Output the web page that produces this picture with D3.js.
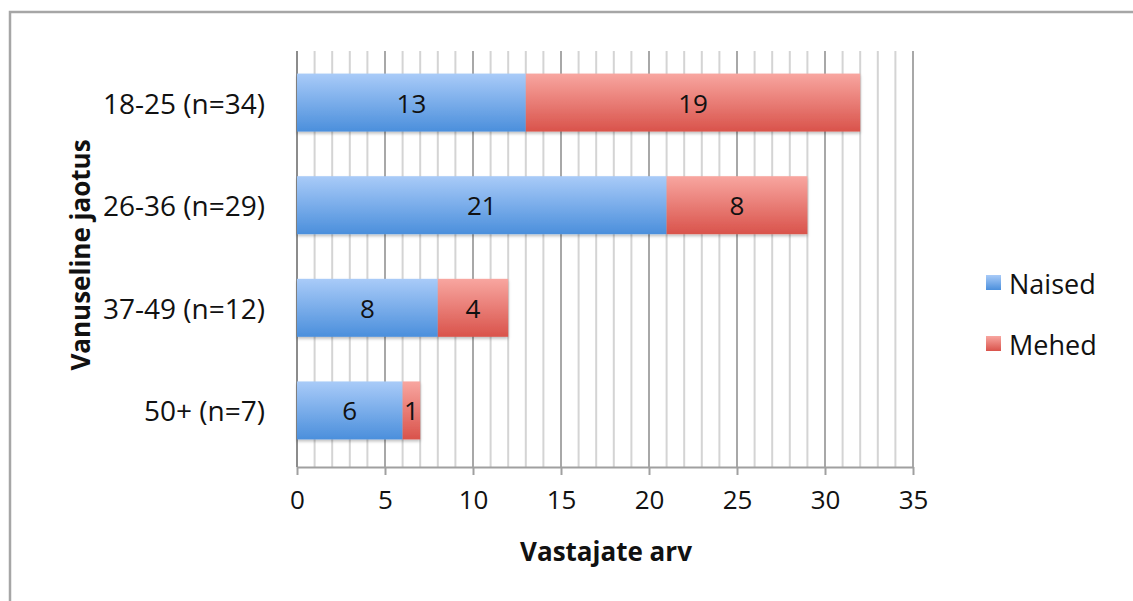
<!DOCTYPE html>
<html>
<head>
<meta charset="utf-8">
<script src="https://cdn.jsdelivr.net/npm/d3@7"></script>
<style>
  html, body { margin: 0; padding: 0; background: #fff; }
  svg { display: block; font-family: "Open Sans", "Noto Sans", sans-serif; }
</style>
</head>
<body>
<svg id="chart" width="1133" height="601"></svg>
<script>
// Age groups and respondent counts by gender
const categories = ["18-25 (n=34)", "26-36 (n=29)", "37-49 (n=12)", "50+ (n=7)"];
const naised = [13, 21, 8, 6];
const mehed = [19, 8, 4, 1];
const seriesNames = ["Naised", "Mehed"];
const xTicks = [0, 5, 10, 15, 20, 25, 30, 35];

const svg = d3.select("#chart");
const W = 1133, H = 601;
const m = { left: 297, right: 913, top: 51, bottom: 467 };
const FS = 26;

// outer chart frame
svg.append("rect")
  .attr("x", 10).attr("y", 12).attr("width", W + 20).attr("height", H + 20)
  .attr("fill", "#fff").attr("stroke", "#a6a6a6").attr("stroke-width", 2.5);

const defs = svg.append("defs");
function grad(id, top, bottom) {
  const g = defs.append("linearGradient").attr("id", id)
    .attr("x1", 0).attr("y1", 0).attr("x2", 0).attr("y2", 1);
  g.append("stop").attr("offset", "0%").attr("stop-color", top);
  g.append("stop").attr("offset", "100%").attr("stop-color", bottom);
}
grad("gBlue", "#a9cbf8", "#4b8fdc");
grad("gRed", "#f8a6a0", "#d9534b");
const shadow = defs.append("filter").attr("id", "shadow")
  .attr("x", "-5%").attr("y", "-10%").attr("width", "110%").attr("height", "140%");
shadow.append("feDropShadow").attr("dx", 0).attr("dy", 2).attr("stdDeviation", 1.6)
  .attr("flood-color", "#000").attr("flood-opacity", 0.25);

const x = d3.scaleLinear().domain([0, 35]).range([m.left, m.right]);
const y = d3.scaleBand().domain(categories).range([m.top, m.bottom - 5])
  .paddingInner(0.435).paddingOuter(0.22);

// vertical gridlines: minor every unit, major every 5
const grid = svg.append("g");
grid.selectAll("line.minor").data(d3.range(1, 36).filter(v => v % 5 !== 0))
  .join("line")
  .attr("x1", d => x(d)).attr("x2", d => x(d))
  .attr("y1", m.top).attr("y2", m.bottom)
  .attr("stroke", "#d4d4d4").attr("stroke-width", 2);
grid.selectAll("line.major").data(xTicks.filter(v => v > 0))
  .join("line")
  .attr("x1", d => x(d)).attr("x2", d => x(d))
  .attr("y1", m.top).attr("y2", m.bottom)
  .attr("stroke", "#a8a8a8").attr("stroke-width", 2);

// x axis
const xAxis = svg.append("g").attr("transform", `translate(0,${m.bottom})`)
  .call(d3.axisBottom(x).tickValues(xTicks).tickSize(8).tickPadding(16).tickSizeOuter(0));
xAxis.select(".domain").attr("stroke", "#a0a0a0").attr("stroke-width", 2);
xAxis.selectAll(".tick line").attr("stroke", "#a0a0a0").attr("stroke-width", 2);
xAxis.selectAll(".tick text").attr("font-size", FS).attr("fill", "#111")
  .attr("font-family", "Open Sans, sans-serif");

// y axis line
svg.append("line").attr("x1", x(0)).attr("x2", x(0))
  .attr("y1", m.top).attr("y2", m.bottom)
  .attr("stroke", "#8c8c8c").attr("stroke-width", 2);

// category labels
svg.append("g").selectAll("text").data(categories).join("text")
  .attr("x", m.left - 32).attr("y", d => y(d) + y.bandwidth() / 2)
  .attr("text-anchor", "end").attr("dominant-baseline", "central")
  .attr("font-size", 28).attr("fill", "#111").text(d => d);

// stacked bars
const rows = categories.map((c, i) => ({ c, n: naised[i], m: mehed[i] }));
const bars = svg.append("g");
rows.forEach(r => {
  const segs = [
    { x0: 0, x1: r.n, v: r.n, fill: "url(#gBlue)" },
    { x0: r.n, x1: r.n + r.m, v: r.m, fill: "url(#gRed)" }
  ];
  const g = bars.append("g").attr("filter", "url(#shadow)");
  g.selectAll("rect").data(segs).join("rect")
    .attr("x", d => x(d.x0)).attr("width", d => x(d.x1) - x(d.x0))
    .attr("y", y(r.c)).attr("height", y.bandwidth())
    .attr("fill", d => d.fill);
  bars.selectAll(null).data(segs).enter().append("text")
    .attr("x", d => (x(d.x0) + x(d.x1)) / 2)
    .attr("y", y(r.c) + y.bandwidth() / 2)
    .attr("text-anchor", "middle").attr("dominant-baseline", "central")
    .attr("font-size", FS).attr("fill", "#111").text(d => d.v);
});

// axis titles
svg.append("text").attr("x", (m.left + m.right) / 2 + 1).attr("y", 561)
  .attr("text-anchor", "middle").attr("font-size", FS).attr("font-weight", "bold")
  .attr("fill", "#111").text("Vastajate arv");
svg.append("text")
  .attr("transform", `translate(80,${(m.top + m.bottom) / 2 - 4}) rotate(-90)`)
  .attr("text-anchor", "middle").attr("dominant-baseline", "central")
  .attr("font-size", FS).attr("font-weight", "bold").attr("fill", "#111")
  .text("Vanuseline jaotus");

// legend
const legend = svg.append("g");
const legendFills = ["url(#gBlue)", "url(#gRed)"];
const legendY = [283, 344];
seriesNames.forEach((s, i) => {
  legend.append("rect").attr("x", 986).attr("y", legendY[i] - 8)
    .attr("width", 15).attr("height", 15).attr("fill", legendFills[i]);
  legend.append("text").attr("x", 1009).attr("y", legendY[i])
    .attr("dominant-baseline", "central").attr("font-size", 27).attr("fill", "#111")
    .text(s);
});
</script>
</body>
</html>
